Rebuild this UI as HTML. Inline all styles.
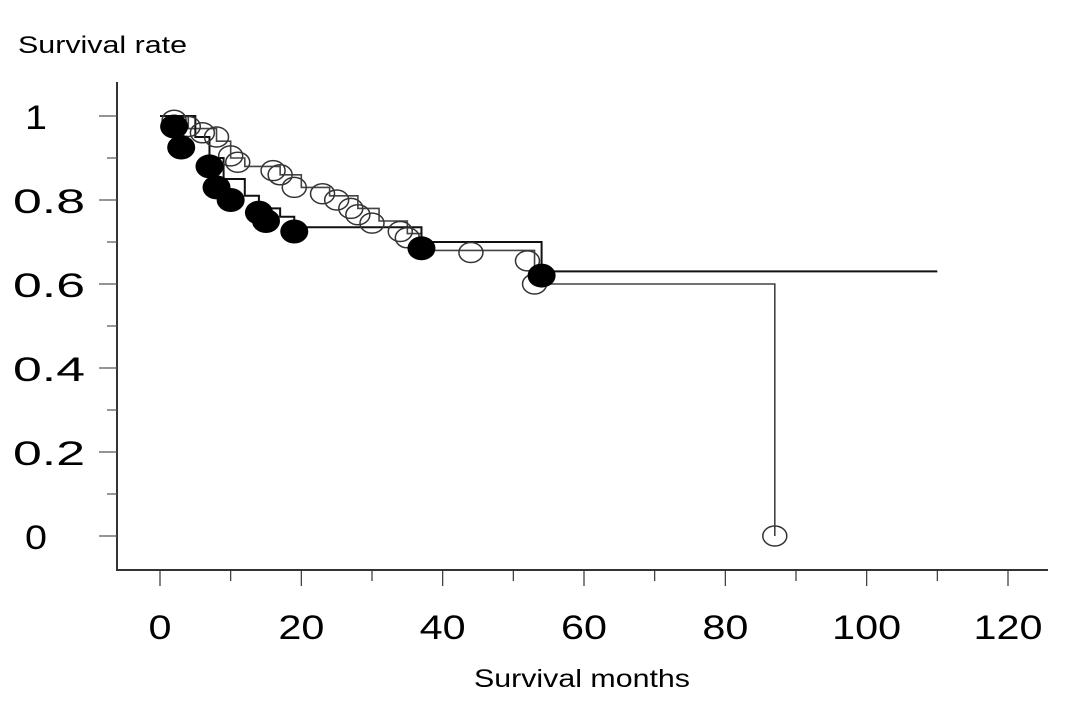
<!DOCTYPE html>
<html><head><meta charset="utf-8"><style>
html,body{margin:0;padding:0;background:#fff;}
svg{display:block;font-family:"Liberation Sans",sans-serif;}
</style></head><body>
<svg id="chart" width="1087" height="709" viewBox="0 0 1087 709">
<text x="18" y="53" font-size="24" textLength="169" lengthAdjust="spacingAndGlyphs">Survival rate</text>
<text x="474" y="687" font-size="25" textLength="216" lengthAdjust="spacingAndGlyphs">Survival months</text>
<g id="axes"></g>
<g id="series"></g>
</svg>
<script>
const xTicks=[0,20,40,60,80,100,120];
const yTicks=[0,0.2,0.4,0.6,0.8,1];
const yTickLabels=["0","0.2","0.4","0.6","0.8","1"];
const filledStepTimes=[0,5,7,9,12,14,17,19,37,54];
const filledStepValues=[1.0,0.95,0.90,0.85,0.81,0.78,0.76,0.735,0.70,0.63];
const filledEnd=110;
const openStepTimes=[0,4,8,10,12,17,20,24,28,31,35,37,53,87];
const openStepValues=[1.0,0.97,0.94,0.90,0.88,0.86,0.83,0.81,0.78,0.75,0.72,0.68,0.60,0];
const openEnd=87;
const filledPtsX=[2,3,7,8,10,14,15,19,37,54];
const filledPtsY=[0.975,0.925,0.88,0.83,0.80,0.77,0.75,0.725,0.685,0.62];
const openPtsX=[2,4,6,8,10,11,16,17,19,23,25,27,28,30,34,35,44,52,53,87];
const openPtsY=[0.99,0.975,0.96,0.95,0.905,0.89,0.87,0.86,0.83,0.815,0.80,0.78,0.765,0.745,0.725,0.71,0.675,0.655,0.60,0];

const X=v=>160+v*(1008-160)/120;
const Y=v=>536-v*420;
const NS="http://www.w3.org/2000/svg";
function mk(tag,attrs,parent){const e=document.createElementNS(NS,tag);for(const k in attrs)e.setAttribute(k,attrs[k]);parent.appendChild(e);return e;}
const axes=document.getElementById('axes'),series=document.getElementById('series');

let e=mk('line',{x1:117,y1:82,x2:117,y2:570,stroke:'#333','stroke-width':2},axes);


e=mk('line',{x1:116,y1:570,x2:1048,y2:570,stroke:'#333','stroke-width':2},axes);



for(let v=0;v<=120;v+=10){
  const major=v%20===0;
  e=mk('line',{x1:X(v),y1:570,x2:X(v),y2:major?586:581,stroke:'#333','stroke-width':1.2},axes);
  
  
}
xTicks.forEach(v=>{
  const s=String(v);
  const w=s.length*23;
  e=mk('text',{x:X(v)-w/2,y:639,'font-size':34,textLength:w,lengthAdjust:'spacingAndGlyphs'},axes);e.textContent=s;
  
  
});
for(let i=0;i<=11;i++){
  const v=i/10;const major=i%2===0;
  if(v>1.05)break;
  e=mk('line',{x1:major?99:107,y1:Y(v),x2:117,y2:Y(v),stroke:'#555','stroke-width':1.2},axes);
  
  
}
yTicks.forEach((v,i)=>{
  const lbl=yTickLabels[i];
  const isInt=lbl.length===1;
  e=mk('text',{x:isInt?25:13,y:Y(v)+13,'font-size':34,textLength:isInt?22:72,lengthAdjust:'spacingAndGlyphs'},axes);e.textContent=lbl;
  
  
});

function stepPath(t,v,end){
  let d='M'+X(t[0])+','+Y(v[0]);
  for(let i=1;i<t.length;i++){d+=' H'+X(t[i])+' V'+Y(v[i]);}
  d+=' H'+X(end);
  return d;
}
e=mk('path',{d:stepPath(openStepTimes,openStepValues,openEnd),fill:'none',stroke:'#444','stroke-width':1.6},series);


e=mk('path',{d:stepPath(filledStepTimes,filledStepValues,filledEnd),fill:'none',stroke:'#111','stroke-width':2},series);



openPtsX.forEach((x,i)=>{
  e=mk('ellipse',{cx:X(x),cy:Y(openPtsY[i]),rx:12,ry:10,fill:'none',stroke:'#333','stroke-width':1.5},series);
  
  
});
filledPtsX.forEach((x,i)=>{
  e=mk('ellipse',{cx:X(x),cy:Y(filledPtsY[i]),rx:14,ry:12,fill:'#000'},series);
  
  
});
</script>
</body></html>
